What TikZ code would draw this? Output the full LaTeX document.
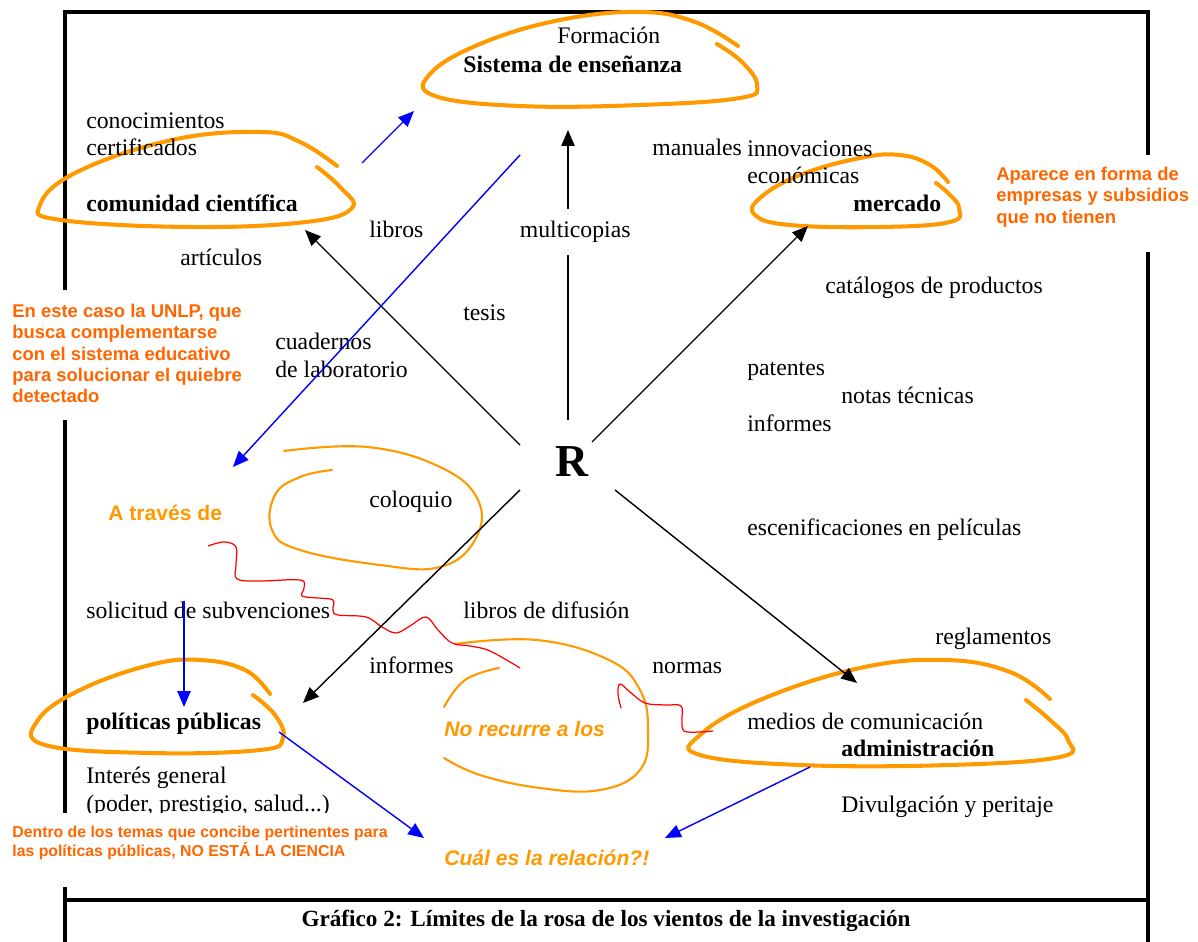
\documentclass[tikz,border=0pt]{standalone}
\usepackage{fontspec}
\setmainfont{Liberation Serif}
\setsansfont{Liberation Sans}
\usetikzlibrary{arrows.meta}

\definecolor{loopor}{HTML}{FF9900}
\definecolor{noteor}{HTML}{FF6600}

\tikzset{
  txt/.style={inner sep=0pt,anchor=base west,font=\fontsize{13.5}{15.9}\selectfont},
  txtb/.style={txt,font=\fontsize{13.5}{15.9}\selectfont\bfseries},
  lines/.style={inner sep=0pt,anchor=north west,align=left,font=\fontsize{13.5}{15.9}\selectfont},
  note/.style={inner sep=0pt,anchor=north west,align=left,text=noteor,font=\sffamily\bfseries\fontsize{10.5}{12.1}\selectfont},
  remark/.style={inner sep=0pt,anchor=base west,text=loopor,font=\sffamily\bfseries\fontsize{12}{14}\selectfont},
  loopline/.style={draw=loopor,line width=2.3pt,line cap=round},
  thinloop/.style={draw=loopor,line width=1.2pt,line cap=round},
  flow/.style={-{Triangle[length=9pt,width=7.5pt]},line width=0.8pt},
  wave/.style={red,line width=0.7pt},
  frame/.style={line width=2.3pt}
}

\begin{document}
\begin{tikzpicture}[x=0.02cm,y=-0.02cm]
\useasboundingbox (0,0) rectangle (1198,942);

% marco
\draw[frame] (65,290) -- (65,12) -- (1148,12) -- (1148,155);
\draw[frame] (65,420) -- (65,813);
\draw[frame] (65,887) -- (65,942);
\draw[frame] (1148,252) -- (1148,942);
\draw[frame] (65,900) -- (1148,900);

% lazos
\draw[loopline] plot[smooth,tension=0.7] coordinates {(738,46) (695,22) (640,12) (560,20) (480,44) (430,74) (435,96) (520,106) (640,105) (740,98) (757,85) (742,62) (717,44)};
\draw[loopline] plot[smooth,tension=0.7] coordinates {(337,166) (300,142) (260,132) (172,140) (77,172) (40,205) (61,220) (191,227) (306,222) (352,208) (340,187) (317,167)};
\draw[loopline] plot[smooth,tension=0.7] coordinates {(948,182) (930,165) (900,155) (860,158) (800,175) (760,198) (755,215) (790,225) (880,227) (950,222) (959,208) (950,195) (936,183)};
\draw[loopline] plot[smooth,tension=0.7] coordinates {(270,694) (245,670) (200,660) (150,665) (80,690) (38,720) (45,745) (150,753) (260,750) (283,738) (275,715) (253,695)};
\draw[loopline] plot[smooth,tension=0.7] coordinates {(1050,699) (1010,672) (945,660) (860,668) (760,700) (700,735) (700,755) (800,765) (950,765) (1060,757) (1068,740) (1050,720) (1026,700)};
\draw[thinloop] plot[smooth,tension=0.7] coordinates {(284,451) (367,447) (440,467) (478,500) (475,540) (440,567) (380,565) (300,550) (272,530) (275,495) (300,477) (332,470)};
\draw[thinloop] plot[smooth,tension=0.7] coordinates {(444,758) (480,775) (540,788) (600,790) (640,770) (648,730) (640,690) (609,660) (537,640) (455,644)};
\draw[thinloop] plot[smooth,tension=0.7] coordinates {(444,707) (465,680) (499,668)};

% ondas
\draw[wave] plot[smooth,tension=0.6] coordinates {(208,546) (224,542) (236,547) (236,565) (237,579) (260,581) (300,580) (304,588) (302,596) (318,598) (333,600) (333,610) (338,615) (366,617) (382,627) (396,633) (410,626) (426,617) (438,630) (452,643) (470,646) (490,651) (520,668)};
\draw[wave] plot[smooth,tension=0.6] coordinates {(621,708) (618,694) (620,684) (630,692) (645,703) (665,705) (681,706) (682,720) (684,731) (700,732) (713,731)};

% flechas de R
\coordinate(nwS) at (520,445); \coordinate(nwT) at (305,230);
\coordinate(nS) at (568,420);  \coordinate(nT) at (568,130);
\coordinate(neS) at (592,442); \coordinate(neT) at (808,226);
\coordinate(swS) at (520,490); \coordinate(swT) at (303,703);
\coordinate(seS) at (615,490); \coordinate(seT) at (857,683);
\draw[flow](nwS) -- (nwT);
\draw[flow](nS) -- (nT);
\draw[flow](neS) -- (neT);
\draw[flow](swS) -- (swT);
\draw[flow](seS) -- (seT);

% textos
\node[txt](form) at (557,44){Formación};
\node[txtb](ense) at (463,73){Sistema de enseñanza};
\node[lines](cono) at (86,112){conocimientos\\certificados};
\node[txtb](comu) at (86,212){comunidad científica};
\node[txt](libr) at (369,238){libros};
\node[txt](arti) at (180,266){artículos};
\node[txt,fill=white,inner xsep=2pt,inner ysep=7pt](mult) at (516,238){multicopias};
\node[txt](manu) at (652,156){manuales};
\node[lines](inno) at (747,140){innovaciones\\económicas};
\node[txtb](merc) at (853,212){mercado};
\node[txt](cata) at (825,294){catálogos de productos};
\node[txt](tesi) at (463,321){tesis};
\node[lines](cuad) at (275,333){cuadernos\\de laboratorio};
\node[txt](pate) at (747,376){patentes};
\node[txt](nota) at (841,404){notas técnicas};
\node[txt](info) at (747,432){informes};
\node[font=\fontsize{26}{30}\selectfont\bfseries,inner sep=0pt](R) at (572,462){R};
\node[txt](colo) at (369,508){coloquio};
\node[txt](esce) at (747,536){escenificaciones en películas};
\node[txt](soli) at (86,619){solicitud de subvenciones};
\node[txt](difu) at (463,619){libros de difusión};
\node[txt](regl) at (935,645){reglamentos};
\node[txt](inf2) at (369,674){informes};
\node[txt](norm) at (652,674){normas};
\node[txtb](poli) at (86,729){políticas públicas};
\node[txt](medi) at (747,729){medios de comunicación};
\node[txtb](admi) at (841,757){administración};
\node[lines](inte) at (86,767){Interés general\\(poder, prestigio, salud...)};
\node[txt](divu) at (841,812){Divulgación y peritaje};

% comentarios
\node[remark](trav) at (108,521){A través de};
\node[remark,font=\sffamily\bfseries\itshape\fontsize{12}{14}\selectfont](recu) at (444,737){No recurre a los};
\node[remark,font=\sffamily\bfseries\itshape\fontsize{12}{14}\selectfont](rela) at (444,866){Cuál es la relación?!};
\node[note](unlp) at (12,304){En este caso la UNLP, que\\busca complementarse\\con el sistema educativo\\para solucionar el quiebre\\detectado};
\node[note](apar) at (996,167){Aparece en forma de\\empresas y subsidios\\que no tienen};
\node[note,font=\sffamily\bfseries\fontsize{9}{11.3}\selectfont,fill=white,inner xsep=6pt,inner ysep=7pt](dent) at (1.5,813){Dentro de los temas que concibe pertinentes para\\las políticas públicas, NO ESTÁ LA CIENCIA};

% flechas azules
\coordinate(b1) at (362,163); \coordinate(b2) at (414,111);
\coordinate(b3) at (520,155); \coordinate(b4) at (233,467);
\coordinate(b5) at (184,601); \coordinate(b6) at (184,707);
\coordinate(b7) at (279,732); \coordinate(b8) at (424,838);
\coordinate(b9) at (810,767); \coordinate(b10) at (665,838);
\draw[flow,blue](b1) -- (b2);
\draw[flow,blue](b3) -- (b4);
\draw[flow,blue](b5) -- (b6);
\draw[flow,blue](b7) -- (b8);
\draw[flow,blue](b9) -- (b10);

\node[font=\fontsize{13.2}{16}\selectfont\bfseries](capt) at (606,921){Gráfico 2: Límites de la rosa de los vientos de la investigación};
\end{tikzpicture}
\end{document}
